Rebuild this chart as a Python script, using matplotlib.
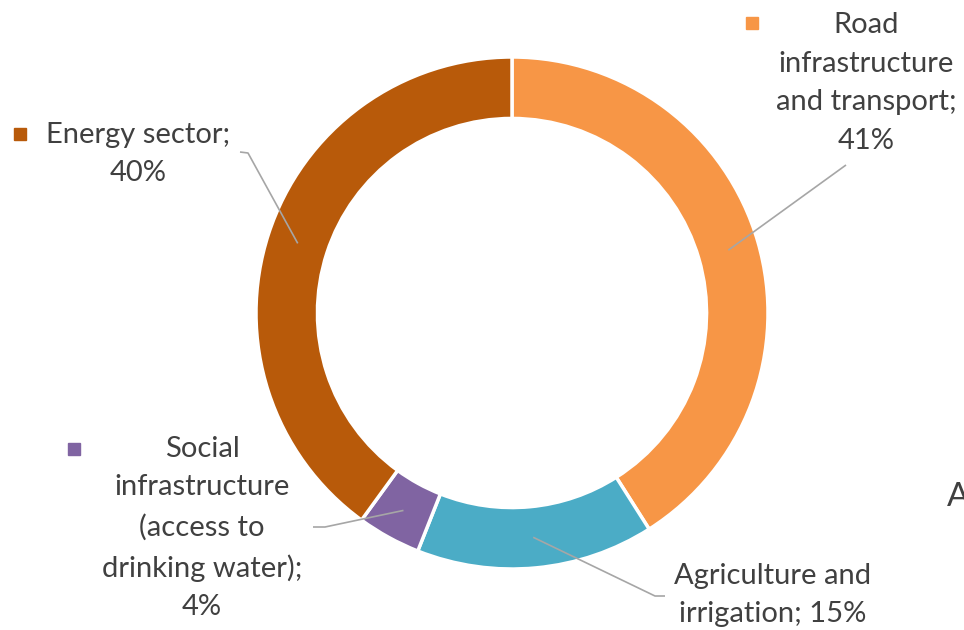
import numpy as np
import matplotlib

matplotlib.use("Agg")
import matplotlib.pyplot as plt

# data, clockwise from 12 o'clock
sectors = ["Road infrastructure and transport", "Agriculture and irrigation",
           "Social infrastructure (access to drinking water)", "Energy sector"]
shares = [41, 15, 4, 40]
colors = ["#F79646", "#4BACC6", "#8064A2", "#B85A0A"]

W, H = 964, 630
CX, CY, R = 512, H - 313, 256
TXT = "#404040"
LEAD = "#A6A6A6"

plt.rcParams["font.family"] = ["Lato", "DejaVu Sans"]

fig = plt.figure(figsize=(W / 100, H / 100), dpi=100)
ax = fig.add_axes([0, 0, 1, 1])

wedges, _ = ax.pie(shares, colors=colors, startangle=90, counterclock=False,
                   radius=R, center=(CX, CY), frame=True,
                   wedgeprops=dict(width=R * 0.24, edgecolor="white", linewidth=2.5))
ax.set_xlim(0, W)
ax.set_ylim(0, H)
ax.axis("off")


def y(py):
    return H - py


# label text, text centre (px), marker pos (px) or None, leader elbow points (px)
labels = [
    ("Road\ninfrastructure\nand transport;\n41%", (866, 83), (752, 23), [(846, 165)]),
    ("Agriculture and\nirrigation; 15%", (773, 595), None, [(665, 596), (655, 596)]),
    ("Social\ninfrastructure\n(access to\ndrinking water);\n4%", (202, 528), (74, 449),
     [(313, 527), (325, 527)]),
    ("Energy sector;\n40%", (138, 154), (20, 134), [(240, 152), (248, 153)]),
]

for w, (txt, (tx, ty), mk, pts), col in zip(wedges, labels, colors):
    ax.text(tx, y(ty), txt, ha="center", va="center", fontsize=21,
            color=TXT, linespacing=1.6)
    if mk is not None:
        ax.plot(mk[0], y(mk[1]), marker="s", ms=8, color=col, mec=col)
    mid = np.deg2rad((w.theta1 + w.theta2) / 2)
    rr = R * 0.88
    xs = [p[0] for p in pts] + [CX + rr * np.cos(mid)]
    ys = [y(p[1]) for p in pts] + [CY + rr * np.sin(mid)]
    ax.plot(xs, ys, color=LEAD, lw=1.2, solid_capstyle="butt")

# title fragment cut by the right edge, as in the source
ax.text(947, y(497), "A", ha="left", va="center", fontsize=24, color=TXT)

fig.savefig("out.png", dpi=100)
